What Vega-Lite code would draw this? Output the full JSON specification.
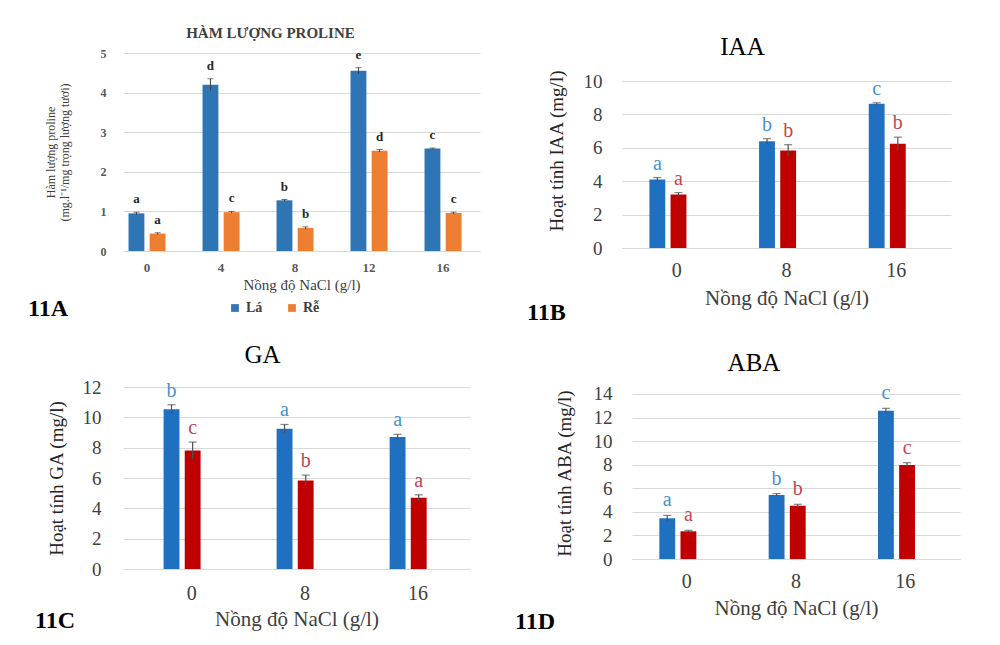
{
  "$schema": "https://vega.github.io/schema/vega-lite/v6.json",
  "background": "white",
  "padding": {"left": 27, "top": 26, "right": 5, "bottom": 5},
  "config": {
    "font": "Liberation Serif",
    "view": {"stroke": null},
    "text": {"font": "Liberation Serif"},
    "axis": {"labelFont": "Liberation Serif", "titleFont": "Liberation Serif", "gridColor": "#d9d9d9", "domainColor": "#d9d9d9", "ticks": false, "labelOverlap": false},
    "legend": {"labelFont": "Liberation Serif", "titleFont": "Liberation Serif"},
    "title": {"font": "Liberation Serif"}
  },
  "resolve": {"scale": {"color": "independent"}, "legend": {"color": "independent"}},
  "columns": 1,
  "align": "none",
  "spacing": 18,
  "concat": [
    {
      "spacing": 47,
      "resolve": {"scale": {"color": "independent"}, "legend": {"color": "independent"}},
      "hconcat": [
        {
          "title": {"text": "11A", "orient": "bottom", "anchor": "start", "font": "Liberation Serif", "fontSize": 24, "fontWeight": "bold", "color": "black", "dx": -16, "dy": -22},
          "resolve": {"scale": {"color": "independent"}, "legend": {"color": "independent"}},
          "vconcat": [
            {
              "width": 357,
              "height": 198,
              "title": {"text": "HÀM LƯỢNG PROLINE", "font": "Liberation Serif", "fontSize": 15, "fontWeight": "bold", "color": "#404040", "offset": 6, "dx": -31},
              "data": {"values": [
                {"nacl": 0, "part": "Lá", "v": 0.95, "lo": 0.92, "hi": 0.98, "letter": "a"},
                {"nacl": 0, "part": "Rễ", "v": 0.44, "lo": 0.42, "hi": 0.46, "letter": "a"},
                {"nacl": 4, "part": "Lá", "v": 4.2, "lo": 4.05, "hi": 4.35, "letter": "d"},
                {"nacl": 4, "part": "Rễ", "v": 0.98, "lo": 0.96, "hi": 1.0, "letter": "c"},
                {"nacl": 8, "part": "Lá", "v": 1.28, "lo": 1.26, "hi": 1.3, "letter": "b"},
                {"nacl": 8, "part": "Rễ", "v": 0.58, "lo": 0.55, "hi": 0.61, "letter": "b"},
                {"nacl": 12, "part": "Lá", "v": 4.55, "lo": 4.47, "hi": 4.63, "letter": "e"},
                {"nacl": 12, "part": "Rễ", "v": 2.53, "lo": 2.5, "hi": 2.56, "letter": "d"},
                {"nacl": 16, "part": "Lá", "v": 2.59, "lo": 2.58, "hi": 2.6, "letter": "c"},
                {"nacl": 16, "part": "Rễ", "v": 0.96, "lo": 0.94, "hi": 0.98, "letter": "c"}
              ]},
              "encoding": {
                "x": {"field": "nacl", "type": "ordinal", "sort": [0, 4, 8, 12, 16], "scale": {"paddingInner": 0.5, "paddingOuter": 0.162, "align": 0.23},
                  "axis": {"title": "Nồng độ NaCl (g/l)", "labelAngle": 0, "labelOverlap": false, "labelFont": "Liberation Serif", "titleFont": "Liberation Serif", "labelFontSize": 13, "labelFontWeight": "bold", "labelColor": "#595959", "labelPadding": 10, "titleFontSize": 15, "titleFontWeight": "normal", "titleColor": "#404040", "titlePadding": 3}},
                "xOffset": {"field": "part", "type": "nominal", "sort": ["Lá", "Rễ"], "scale": {"paddingInner": 0.25}}
              },
              "layer": [
                {
                  "mark": {"type": "bar"},
                  "encoding": {
                    "y": {"field": "v", "type": "quantitative", "scale": {"domain": [0, 5], "nice": false},
                      "axis": {"values": [0, 1, 2, 3, 4, 5], "tickCount": 20, "format": "d", "labelOverlap": false, "title": ["Hàm lượng proline", "(mg.l⁻¹/mg trọng lượng tươi)"], "domain": false, "labelFont": "Liberation Serif", "titleFont": "Liberation Serif", "labelFontSize": 12, "labelFontWeight": "bold", "labelColor": "#595959", "labelPadding": 17, "titleFontSize": 12, "titleFontWeight": "normal", "titleColor": "#404040", "titlePadding": 29}},
                    "color": {"field": "part", "type": "nominal", "scale": {"domain": ["Lá", "Rễ"], "range": ["#2e75b6", "#ed7d31"]},
                      "legend": {"title": null, "orient": "none", "legendX": 105, "legendY": 248, "direction": "horizontal", "symbolType": "square", "symbolSize": 60, "labelFont": "Liberation Serif", "labelFontSize": 14, "labelFontWeight": "bold", "labelColor": "#404040", "columnPadding": 22}}
                  }
                },
                {
                  "mark": {"type": "rule", "color": "#404040", "strokeWidth": 1},
                  "encoding": {"y": {"field": "lo", "type": "quantitative"}, "y2": {"field": "hi"}}
                },
                {
                  "mark": {"type": "tick", "color": "#404040", "thickness": 1, "size": 6},
                  "encoding": {"y": {"field": "hi", "type": "quantitative"}}
                },
                {
                  "mark": {"type": "text", "baseline": "alphabetic", "dy": -9, "font": "Liberation Serif", "fontSize": 13, "fontWeight": "bold", "color": "#262626"},
                  "encoding": {"y": {"field": "hi", "type": "quantitative"}, "text": {"field": "letter"}}
                }
              ]
            }
          ]
        },
        {
          "title": {"text": "11B", "orient": "bottom", "anchor": "start", "font": "Liberation Serif", "fontSize": 24, "fontWeight": "bold", "color": "black", "dx": -20, "dy": -11},
          "resolve": {"scale": {"color": "independent"}, "legend": {"color": "independent"}},
          "vconcat": [
            {
              "width": 329,
              "height": 195,
              "title": {"text": "IAA", "font": "Liberation Serif", "fontSize": 25, "fontWeight": "normal", "color": "black", "offset": -7, "dx": -44},
              "data": {"values": [
                {"nacl": 0, "part": "Lá", "v": 4.1, "lo": 3.98, "hi": 4.22, "letter": "a"},
                {"nacl": 0, "part": "Rễ", "v": 3.2, "lo": 3.08, "hi": 3.32, "letter": "a"},
                {"nacl": 8, "part": "Lá", "v": 6.4, "lo": 6.25, "hi": 6.55, "letter": "b"},
                {"nacl": 8, "part": "Rễ", "v": 5.84, "lo": 5.49, "hi": 6.19, "letter": "b"},
                {"nacl": 16, "part": "Lá", "v": 8.64, "lo": 8.58, "hi": 8.7, "letter": "c"},
                {"nacl": 16, "part": "Rễ", "v": 6.24, "lo": 5.84, "hi": 6.64, "letter": "b"}
              ]},
              "encoding": {
                "x": {"field": "nacl", "type": "ordinal", "sort": [0, 8, 16], "scale": {"paddingInner": 0.5, "paddingOuter": 0.25},
                  "axis": {"title": "Nồng độ NaCl (g/l)", "labelAngle": 0, "labelOverlap": false, "labelFont": "Liberation Serif", "titleFont": "Liberation Serif", "labelFontSize": 20, "labelColor": "#404040", "labelPadding": 12, "titleFontSize": 21, "titleFontWeight": "normal", "titleColor": "#404040", "titlePadding": 7}},
                "xOffset": {"field": "part", "type": "nominal", "sort": ["Lá", "Rễ"], "scale": {"paddingInner": 0.22}}
              },
              "layer": [
                {
                  "mark": {"type": "bar"},
                  "encoding": {
                    "y": {"field": "v", "type": "quantitative", "scale": {"domain": [0, 11.68], "nice": false},
                      "axis": {"values": [0, 2, 4, 6, 8, 10], "tickCount": 20, "format": "d", "labelOverlap": false, "title": "Hoạt tính IAA (mg/l)", "domain": false, "labelFont": "Liberation Serif", "titleFont": "Liberation Serif", "labelFontSize": 19, "labelColor": "#404040", "labelPadding": 20, "titleFontSize": 19, "titleFontWeight": "normal", "titleColor": "#262626", "titlePadding": 17}},
                    "color": {"field": "part", "type": "nominal", "scale": {"domain": ["Lá", "Rễ"], "range": ["#1f70c1", "#c00000"]}, "legend": null}
                  }
                },
                {
                  "mark": {"type": "rule", "color": "#505050", "strokeWidth": 1.2},
                  "encoding": {"y": {"field": "lo", "type": "quantitative"}, "y2": {"field": "hi"}}
                },
                {
                  "mark": {"type": "tick", "color": "#505050", "thickness": 1.2, "size": 8},
                  "encoding": {"y": {"field": "hi", "type": "quantitative"}}
                },
                {
                  "mark": {"type": "text", "baseline": "alphabetic", "dy": -8, "font": "Liberation Serif", "fontSize": 20},
                  "encoding": {
                    "y": {"field": "hi", "type": "quantitative"},
                    "text": {"field": "letter"},
                    "color": {"condition": {"test": "datum.part === 'Lá'", "value": "#4a8fd0"}, "value": "#c4454f"}
                  }
                }
              ]
            }
          ]
        }
      ]
    },
    {
      "spacing": 45,
      "resolve": {"scale": {"color": "independent"}, "legend": {"color": "independent"}},
      "hconcat": [
        {
          "title": {"text": "11C", "orient": "bottom", "anchor": "start", "font": "Liberation Serif", "fontSize": 24, "fontWeight": "bold", "color": "black", "dx": 8, "dy": -24},
          "resolve": {"scale": {"color": "independent"}, "legend": {"color": "independent"}},
          "vconcat": [
            {
              "width": 347,
              "height": 182,
              "title": {"text": "GA", "font": "Liberation Serif", "fontSize": 25, "fontWeight": "normal", "color": "black", "offset": 10, "dx": -34},
              "data": {"values": [
                {"nacl": 0, "part": "Lá", "v": 10.53, "lo": 10.23, "hi": 10.83, "letter": "b"},
                {"nacl": 0, "part": "Rễ", "v": 7.82, "lo": 7.27, "hi": 8.37, "letter": "c"},
                {"nacl": 8, "part": "Lá", "v": 9.25, "lo": 8.97, "hi": 9.53, "letter": "a"},
                {"nacl": 8, "part": "Rễ", "v": 5.84, "lo": 5.49, "hi": 6.19, "letter": "b"},
                {"nacl": 16, "part": "Lá", "v": 8.7, "lo": 8.52, "hi": 8.88, "letter": "a"},
                {"nacl": 16, "part": "Rễ", "v": 4.69, "lo": 4.49, "hi": 4.89, "letter": "a"}
              ]},
              "encoding": {
                "x": {"field": "nacl", "type": "ordinal", "sort": [0, 8, 16], "scale": {"paddingInner": 0.5, "paddingOuter": 0.285, "align": 0.63},
                  "axis": {"title": "Nồng độ NaCl (g/l)", "labelAngle": 0, "labelOverlap": false, "labelFont": "Liberation Serif", "titleFont": "Liberation Serif", "labelFontSize": 20, "labelColor": "#404040", "labelPadding": 14, "titleFontSize": 21, "titleFontWeight": "normal", "titleColor": "#404040", "titlePadding": 5}},
                "xOffset": {"field": "part", "type": "nominal", "sort": ["Lá", "Rễ"], "scale": {"paddingInner": 0.22}}
              },
              "layer": [
                {
                  "mark": {"type": "bar"},
                  "encoding": {
                    "y": {"field": "v", "type": "quantitative", "scale": {"domain": [0, 12], "nice": false},
                      "axis": {"values": [0, 2, 4, 6, 8, 10, 12], "tickCount": 20, "format": "d", "labelOverlap": false, "title": ["", "Hoạt tính GA (mg/l)"], "titleLineHeight": 20, "domain": false, "labelFont": "Liberation Serif", "titleFont": "Liberation Serif", "labelFontSize": 19, "labelColor": "#404040", "labelPadding": 22, "titleFontSize": 19, "titleFontWeight": "normal", "titleColor": "#262626", "titlePadding": 16}},
                    "color": {"field": "part", "type": "nominal", "scale": {"domain": ["Lá", "Rễ"], "range": ["#1f70c1", "#c00000"]}, "legend": null}
                  }
                },
                {
                  "mark": {"type": "rule", "color": "#505050", "strokeWidth": 1.2},
                  "encoding": {"y": {"field": "lo", "type": "quantitative"}, "y2": {"field": "hi"}}
                },
                {
                  "mark": {"type": "tick", "color": "#505050", "thickness": 1.2, "size": 8},
                  "encoding": {"y": {"field": "hi", "type": "quantitative"}}
                },
                {
                  "mark": {"type": "text", "baseline": "alphabetic", "dy": -8, "font": "Liberation Serif", "fontSize": 20},
                  "encoding": {
                    "y": {"field": "hi", "type": "quantitative"},
                    "text": {"field": "letter"},
                    "color": {"condition": {"test": "datum.part === 'Lá'", "value": "#4a8fd0"}, "value": "#c4454f"}
                  }
                }
              ]
            }
          ]
        },
        {
          "title": {"text": "11D", "orient": "bottom", "anchor": "start", "font": "Liberation Serif", "fontSize": 24, "fontWeight": "bold", "color": "black", "dx": -40, "dy": -12},
          "resolve": {"scale": {"color": "independent"}, "legend": {"color": "independent"}},
          "vconcat": [
            {
              "width": 328,
              "height": 172,
              "title": {"text": "ABA", "font": "Liberation Serif", "fontSize": 25, "fontWeight": "normal", "color": "black", "offset": 7, "dx": -42},
              "data": {"values": [
                {"nacl": 0, "part": "Lá", "v": 3.45, "lo": 3.2, "hi": 3.7, "letter": "a"},
                {"nacl": 0, "part": "Rễ", "v": 2.35, "lo": 2.27, "hi": 2.43, "letter": "a"},
                {"nacl": 8, "part": "Lá", "v": 5.43, "lo": 5.31, "hi": 5.55, "letter": "b"},
                {"nacl": 8, "part": "Rễ", "v": 4.52, "lo": 4.4, "hi": 4.64, "letter": "b"},
                {"nacl": 16, "part": "Lá", "v": 12.58, "lo": 12.38, "hi": 12.78, "letter": "c"},
                {"nacl": 16, "part": "Rễ", "v": 7.97, "lo": 7.77, "hi": 8.17, "letter": "c"}
              ]},
              "encoding": {
                "x": {"field": "nacl", "type": "ordinal", "sort": [0, 8, 16], "scale": {"paddingInner": 0.5, "paddingOuter": 0.25},
                  "axis": {"title": "Nồng độ NaCl (g/l)", "labelAngle": 0, "labelOverlap": false, "labelFont": "Liberation Serif", "titleFont": "Liberation Serif", "labelFontSize": 20, "labelColor": "#404040", "labelPadding": 12, "titleFontSize": 21, "titleFontWeight": "normal", "titleColor": "#404040", "titlePadding": 6}},
                "xOffset": {"field": "part", "type": "nominal", "sort": ["Lá", "Rễ"], "scale": {"paddingInner": 0.22}}
              },
              "layer": [
                {
                  "mark": {"type": "bar"},
                  "encoding": {
                    "y": {"field": "v", "type": "quantitative", "scale": {"domain": [0, 14.59], "nice": false},
                      "axis": {"values": [0, 2, 4, 6, 8, 10, 12, 14], "tickCount": 20, "format": "d", "labelOverlap": false, "title": "Hoạt tính ABA (mg/l)", "domain": false, "labelFont": "Liberation Serif", "titleFont": "Liberation Serif", "labelFontSize": 19, "labelColor": "#404040", "labelPadding": 20, "titleFontSize": 19, "titleFontWeight": "normal", "titleColor": "#262626", "titlePadding": 19}},
                    "color": {"field": "part", "type": "nominal", "scale": {"domain": ["Lá", "Rễ"], "range": ["#1f70c1", "#c00000"]}, "legend": null}
                  }
                },
                {
                  "mark": {"type": "rule", "color": "#505050", "strokeWidth": 1.2},
                  "encoding": {"y": {"field": "lo", "type": "quantitative"}, "y2": {"field": "hi"}}
                },
                {
                  "mark": {"type": "tick", "color": "#505050", "thickness": 1.2, "size": 8},
                  "encoding": {"y": {"field": "hi", "type": "quantitative"}}
                },
                {
                  "mark": {"type": "text", "baseline": "alphabetic", "dy": -9, "font": "Liberation Serif", "fontSize": 20},
                  "encoding": {
                    "y": {"field": "hi", "type": "quantitative"},
                    "text": {"field": "letter"},
                    "color": {"condition": {"test": "datum.part === 'Lá'", "value": "#4a8fd0"}, "value": "#c4454f"}
                  }
                }
              ]
            }
          ]
        }
      ]
    }
  ]
}
